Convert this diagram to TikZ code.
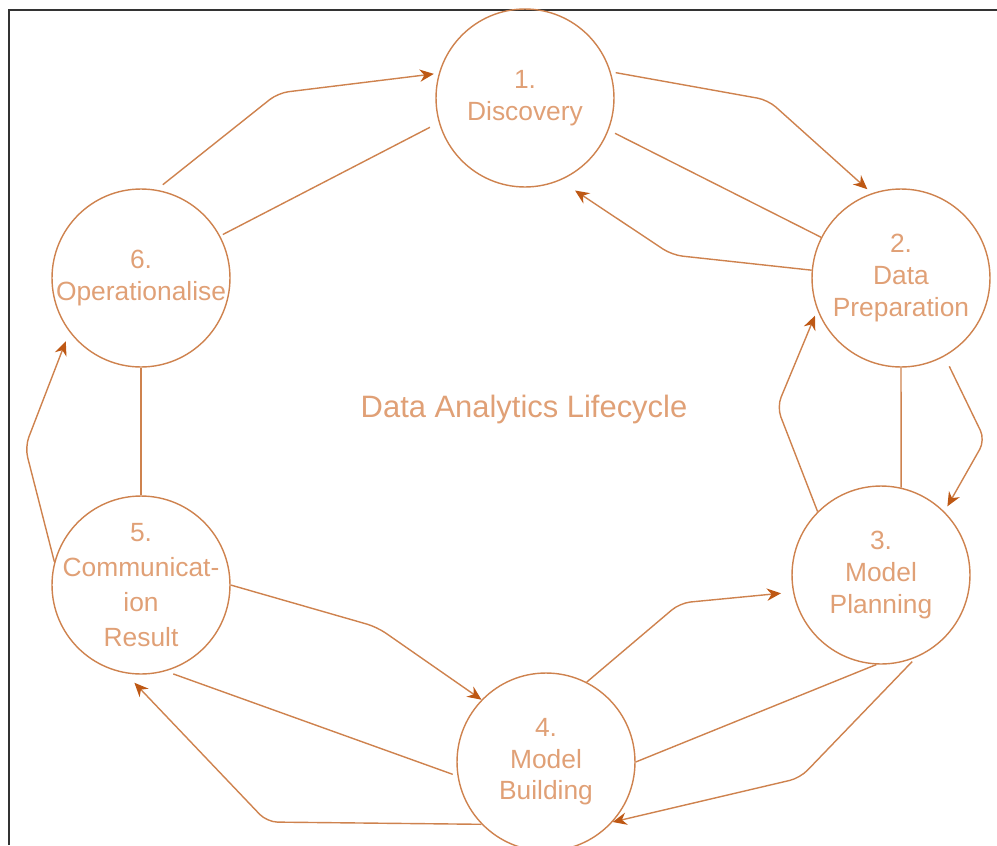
\documentclass[tikz,border=0pt]{standalone}
\usepackage{fontspec}
\setmainfont{Liberation Sans}
\usetikzlibrary{automata, arrows.meta}
\definecolor{lineorange}{RGB}{206,130,78}
\definecolor{headorange}{RGB}{190,88,20}
\definecolor{textorange}{RGB}{224,160,118}
\tikzset{
    every state/.style={draw=lineorange, line width=0.8pt, minimum size=3.56cm, inner sep=0pt,
        text=textorange, align=center, font=\fontsize{15pt}{18pt}\selectfont}, % the phase circles
    link/.style={draw=lineorange, line width=0.8pt, rounded corners=6pt}, % every connector
    >={Stealth[length=8pt, width=7pt, color=headorange]}, % filled dark heads
}

\begin{document}
\begin{tikzpicture}[x=0.02cm, y=-0.02cm]
    \useasboundingbox (0,0) rectangle (997,845);
    \draw[black!80, line width=1.1pt] (9,845) -- (9,10) -- (997,10);

    \node[state] (p1) at (525,98) {1.\\Discovery};
    \node[state] (p2) at (901,278) {2.\\Data\\Preparation};
    \node[state] (p3) at (881,575) {3.\\Model\\Planning};
    \node[state] (p4) at (546,762) {4.\\Model\\Building};
    \node[state, inner sep=-20pt, font=\fontsize{15pt}{20pt}\selectfont] (p5) at (141,585) {5.\\Communicat-\\ion\\Result};
    \node[state, inner sep=-10pt] (p6) at (141,278) {6.\\Operationalise};
    \node[text=textorange, font=\fontsize{17.6pt}{21pt}\selectfont, anchor=base] (title) at (524,417) {Data Analytics Lifecycle};

    \coordinate (b12) at (768,100);
    \coordinate (b21) at (672,255);
    \coordinate (b61) at (278,93);
    \coordinate (b32) at (777,407);
    \coordinate (b23) at (985,440);
    \coordinate (b43) at (680,603);
    \coordinate (b34) at (800,778);
    \coordinate (b54) at (377,627);
    \coordinate (b45) at (267,822);
    \coordinate (b56) at (25,447);

    \draw[link, ->, shorten <=0.1cm, shorten >=0.12cm] (p1.17) -- (b12) -- (p2.109);
    \draw[link, shorten <=0.14cm] (p1.-21) -- (p2.153);
    \draw[link, ->, shorten >=0.36cm] (p2.175) -- (b21) -- (p1.-67);
    \draw[link, ->, shorten <=0.16cm, shorten >=0.1cm] (p6.80) -- (b61) -- (p1.164);
    \draw[link, shorten <=0.06cm, shorten >=0.2cm] (p6.28) -- (p1.196);
    \draw[link] (p2.south) -- (p3.77);
    \draw[link, ->, shorten >=0.12cm] (p3.135) -- (b32) -- (p2.201);
    \draw[link, ->, shorten <=0.22cm, shorten >=0.12cm] (p2.-61) -- (b23) -- (p3.45);
    \draw[link, ->, shorten >=0.24cm] (p4.63) -- (b43) -- (p3.191);
    \draw[link] (p3.-93) -- (p4.0);
    \draw[link, ->, shorten <=0.11cm] (p3.-67) -- (b34) -- (p4.-42);
    \draw[link, ->] (p5.0) -- (b54) -- (p4.136);
    \draw[link, shorten <=0.16cm, shorten >=0.1cm] (p5.-74) -- (p4.189);
    \draw[link, ->, shorten >=0.26cm] (p4.-136) -- (b45) -- (p5.-100);
    \draw[link] (p5.north) -- (p6.south);
    \draw[link, ->, shorten >=0.2cm] (p5.165) -- (b56) -- (p6.217);
\end{tikzpicture}
\end{document}
